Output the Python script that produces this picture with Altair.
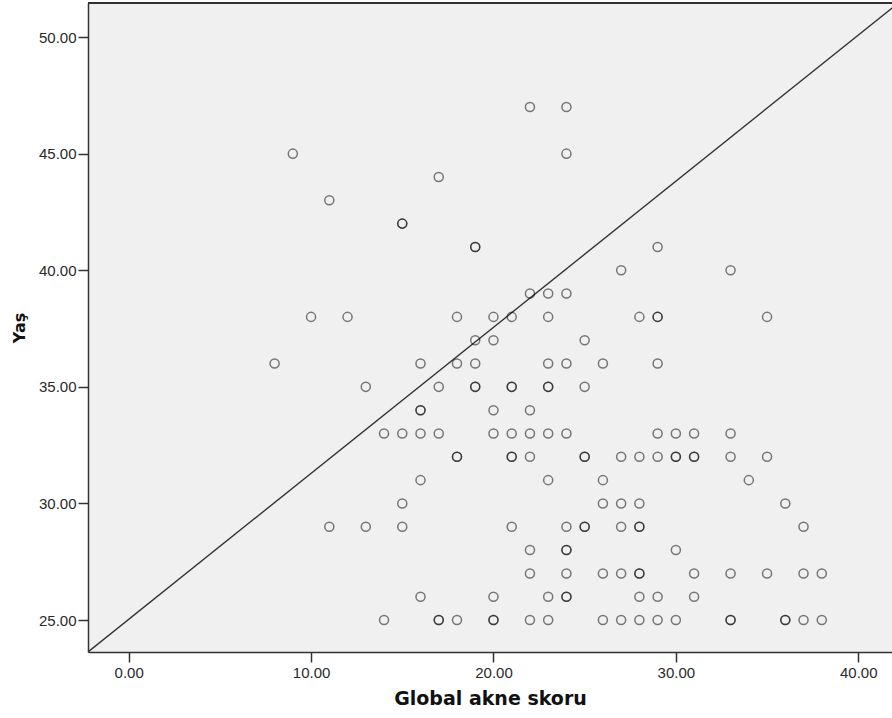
import altair as alt
import pandas as pd

# Global akne skoru (x) and Yaş (y) for each respondent, read row by row
score = [
    22, 24,
    9, 24,
    17,
    11,
    15, 15,
    19, 19, 29,
    27, 33,
    22, 23, 24,
    10, 12, 18, 20, 21, 23, 28, 29, 29, 35,
    19, 20, 25,
    8, 16, 18, 19, 23, 24, 26, 29,
    13, 17, 19, 19, 21, 21, 23, 23, 25,
    16, 16, 20, 22,
    14, 15, 16, 17, 20, 21, 22, 23, 24, 29, 30, 31, 33,
    18, 18, 21, 21, 22, 25, 25, 27, 28, 29, 30, 30, 31, 31, 33, 35,
    16, 23, 26, 34,
    15, 26, 27, 28, 36,
    11, 13, 15, 21, 24, 25, 25, 27, 28, 28, 37,
    22, 24, 24, 30,
    22, 24, 26, 27, 28, 28, 31, 33, 35, 37, 38,
    16, 20, 23, 24, 24, 28, 29, 31,
    14, 17, 17, 18, 20, 20, 22, 23, 26, 27, 28, 29, 30, 33, 33, 36, 36, 37, 38,
]
age = (
    [47] * 2 + [45] * 2 + [44] * 1 + [43] * 1 + [42] * 2 + [41] * 3 + [40] * 2
    + [39] * 3 + [38] * 10 + [37] * 3 + [36] * 8 + [35] * 9 + [34] * 4
    + [33] * 13 + [32] * 16 + [31] * 4 + [30] * 5 + [29] * 11 + [28] * 4
    + [27] * 11 + [26] * 8 + [25] * 19
)

# diagonal reference line (corner to corner of the frame)
line_x = [-2.23, 42.2]
line_y = [23.63, 51.46]

x_ticks = [0, 10, 20, 30, 40]
y_ticks = [25, 30, 35, 40, 45, 50]
x_domain = [-2.23, 41.85]
y_domain = [23.63, 51.46]

pts = pd.DataFrame({"score": score, "age": age})
ref = pd.DataFrame({"score": line_x, "age": line_y})

W, H = 804, 649

xs = alt.Scale(domain=x_domain, nice=False, zero=False)
ys = alt.Scale(domain=y_domain, nice=False, zero=False)

x_axis = alt.Axis(
    title="Global akne skoru", values=x_ticks, format=".2f", grid=False,
    tickSize=10, labelPadding=3, titlePadding=9,
    labelFont="Liberation Sans", labelFontSize=15, labelColor="#2a2a2a",
    titleFont="DejaVu Sans", titleFontSize=19, titleFontWeight="bold", titleColor="#111",
    domainColor="#333", domainWidth=1.5, tickColor="#333", tickWidth=1.5,
)
y_axis = alt.Axis(
    title="Yaş", values=y_ticks, format=".2f", grid=False,
    tickSize=10, labelPadding=2, titlePadding=11,
    labelFont="Liberation Sans", labelFontSize=15, labelColor="#2a2a2a",
    titleFont="DejaVu Sans", titleFontSize=16, titleFontWeight="bold", titleColor="#111",
    domainColor="#333", domainWidth=1.5, tickColor="#333", tickWidth=1.5,
)

points = alt.Chart(pts).mark_point(
    shape="circle", filled=False, size=82, stroke="#000", strokeOpacity=0.72, strokeWidth=1.5
).encode(
    x=alt.X("score:Q", scale=xs, axis=x_axis),
    y=alt.Y("age:Q", scale=ys, axis=y_axis),
)

line = alt.Chart(ref).mark_line(color="#333", strokeWidth=1.4, clip=True).encode(
    x=alt.X("score:Q", scale=xs),
    y=alt.Y("age:Q", scale=ys),
)

top_border = alt.Chart(pts).mark_rule(color="#333", strokeWidth=1.5).encode(
    x=alt.value(0), x2=alt.value(W), y=alt.value(0)
)

chart = alt.layer(line, points, top_border).properties(
    width=W, height=H,
    autosize=alt.AutoSizeParams(type="none"),
    padding={"left": 88, "top": 3, "right": 0, "bottom": 66},
    background="white",
).configure_view(fill="#f0f0f0", stroke=None)

chart.save("out.html", embed_options={"renderer": "svg", "actions": False})
